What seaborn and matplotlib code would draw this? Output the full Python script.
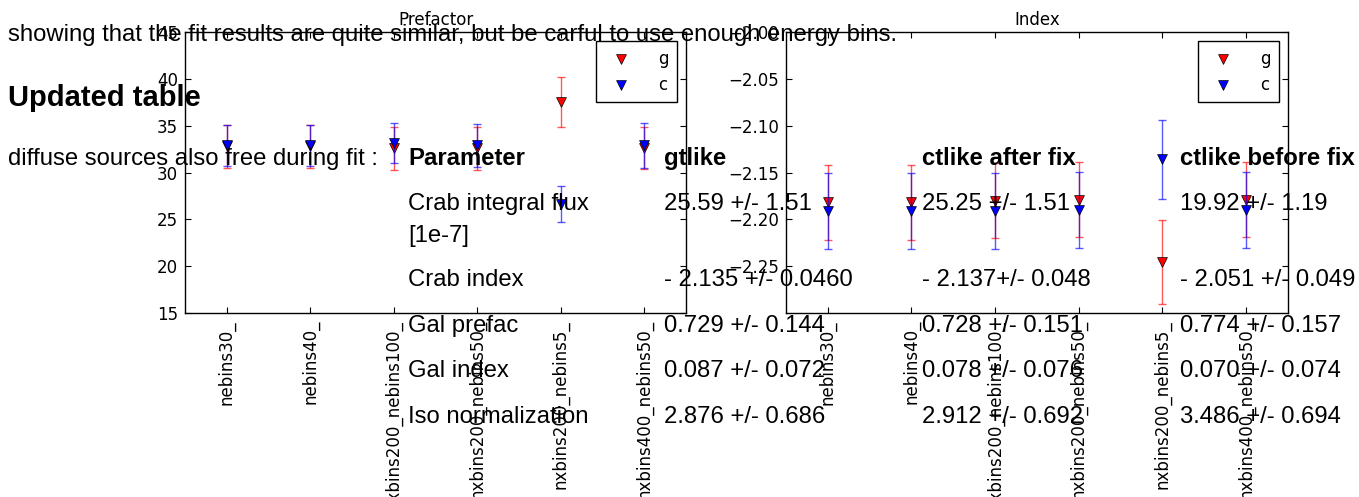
import numpy as np
import pandas as pd
import matplotlib
matplotlib.use("Agg")
import matplotlib.pyplot as plt
from matplotlib.ticker import FuncFormatter
import seaborn as sns

# Fit configurations (x categories)
configs = ['nebins30_', 'nebins40_', 'nxbins200_nebins100_',
           'nxbins200_nebins50_', 'nxbins200_nebins5_', 'nxbins400_nebins50_']

# Prefactor results for gtlike (g) and ctlike (c)
pref_g = [32.8, 32.8, 32.6, 32.6, 37.5, 32.65]
pref_g_err = [2.3, 2.3, 2.3, 2.3, 2.65, 2.25]
pref_c = [32.9, 32.9, 33.15, 32.9, 26.65, 32.9]
pref_c_err = [2.2, 2.2, 2.15, 2.3, 1.95, 2.4]

# Index results
index_g = [-2.182, -2.182, -2.18, -2.179, -2.2455, -2.179]
index_g_err = [0.040, 0.040, 0.040, 0.040, 0.0445, 0.040]
index_c = [-2.191, -2.191, -2.191, -2.19, -2.136, -2.19]
index_c_err = [0.041, 0.041, 0.041, 0.041, 0.0425, 0.041]

# Page text around the figure
intro_text = 'showing that the fit results are quite similar, but be carful to use enough energy bins.'
heading_text = 'Updated table'
note_text = 'diffuse sources also free during fit :'
table_header = ['Parameter', 'gtlike', 'ctlike after fix', 'ctlike before fix']
table_params = ['Crab integral flux', 'Crab index', 'Gal prefac', 'Gal index', 'Iso normalization']
table_gtlike = ['25.59 +/- 1.51', '- 2.135 +/- 0.0460', '0.729 +/- 0.144', '0.087 +/- 0.072', '2.876 +/- 0.686']
table_after = ['25.25 +/- 1.51', '- 2.137+/- 0.048', '0.728 +/- 0.151', '0.078 +/- 0.076', '2.912 +/- 0.692']
table_before = ['19.92 +/- 1.19', '- 2.051 +/- 0.049', '0.774 +/- 0.157', '0.070 +/- 0.074', '3.486 +/- 0.694']

sns.set_style('white')
plt.rcParams['font.family'] = ['DejaVu Sans']
plt.rcParams.update({
    'xtick.direction': 'in', 'ytick.direction': 'in',
    'xtick.top': True, 'ytick.right': True,
    'xtick.bottom': True, 'ytick.left': True,
    'xtick.major.size': 4, 'ytick.major.size': 4,
    'axes.edgecolor': 'black', 'axes.linewidth': 1.0,
    'xtick.color': 'black', 'ytick.color': 'black',
    'text.color': 'black', 'axes.labelcolor': 'black',
})

W, H = 1359, 497
fig = plt.figure(figsize=(W / 100, H / 100), dpi=100)
ax1 = fig.add_axes([185 / W, 1 - 313 / H, 501 / W, 281 / H])
ax2 = fig.add_axes([786 / W, 1 - 313 / H, 502 / W, 281 / H])


def panel(ax, g, g_err, c, c_err, title):
    df = pd.DataFrame({'config': configs, 'g': g, 'c': c})
    ax.errorbar(configs, g, yerr=g_err, fmt='none', ecolor='red', elinewidth=1,
                capsize=3, capthick=1, alpha=0.65, zorder=2)
    sns.scatterplot(data=df, x='config', y='g', color='red', marker='v', s=50,
                    edgecolor='black', linewidth=0.5, label='g', ax=ax, zorder=3)
    ax.errorbar(configs, c, yerr=c_err, fmt='none', ecolor='blue', elinewidth=1,
                capsize=3, capthick=1, alpha=0.65, zorder=4)
    sns.scatterplot(data=df, x='config', y='c', color='blue', marker='v', s=50,
                    edgecolor='black', linewidth=0.5, label='c', ax=ax, zorder=5)
    ax.set_xlim(-0.5, len(configs) - 0.5)
    ax.set_xlabel('')
    ax.set_ylabel('')
    ax.set_title(title, fontsize=12, pad=5)
    ax.tick_params(axis='x', labelrotation=90, labelsize=12, pad=5)
    ax.tick_params(axis='y', labelsize=12, pad=5)
    ax.legend(loc='upper right', frameon=True, fancybox=False, edgecolor='black',
              framealpha=1, fontsize=12, handletextpad=1.2, borderpad=0.5,
              labelspacing=0.5, scatterpoints=1, borderaxespad=0.55)


panel(ax1, pref_g, pref_g_err, pref_c, pref_c_err, 'Prefactor')
ax1.set_ylim(15, 45)
ax1.set_yticks(np.arange(15, 46, 5))

panel(ax2, index_g, index_g_err, index_c, index_c_err, 'Index')
ax2.set_ylim(-2.30, -2.00)
ax2.set_yticks(np.arange(-2.25, -1.999, 0.05))
ax2.yaxis.set_major_formatter(FuncFormatter(lambda v, _: f'{v:.2f}'.replace('-', '\u2212')))

# Page text (drawn over the figure, as on the web page)
page_font = ['Liberation Sans', 'DejaVu Sans']


def ptext(x, y, s, size=17.2, weight='normal'):
    fig.text(x / W, 1 - y / H, s, fontsize=size, fontweight=weight,
             family=page_font, va='baseline', ha='left', zorder=10)


ptext(8, 41, intro_text)
ptext(8, 106, heading_text, size=21, weight='bold')
ptext(8, 165, note_text)

col_x = [408, 664, 922, 1180]
for x, h in zip(col_x, table_header):
    ptext(x, 165, h, weight='bold')

row_y = [210, 286, 332, 377, 423]
for y, p, a, b, c in zip(row_y, table_params, table_gtlike, table_after, table_before):
    ptext(col_x[0], y, p)
    ptext(col_x[1], y, a)
    ptext(col_x[2], y, b)
    ptext(col_x[3], y, c)
ptext(col_x[0], 242, '[1e-7]')

fig.savefig('out.png', dpi=100)
